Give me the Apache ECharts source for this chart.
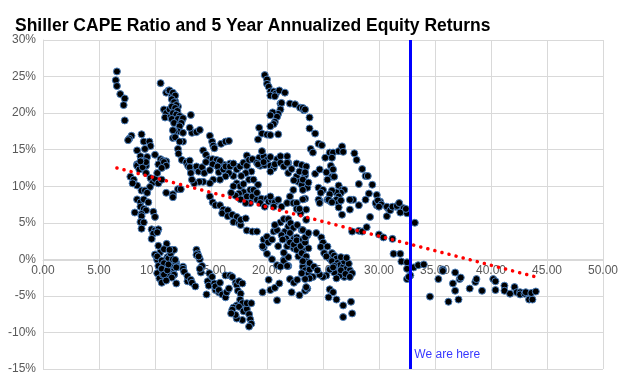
<!DOCTYPE html>
<html>
<head>
<meta charset="utf-8">
<script src="https://cdn.jsdelivr.net/npm/echarts@6/dist/echarts.min.js"></script>
<style>html,body{margin:0;padding:0;background:#fff;}#c{width:624px;height:384px;}</style>
</head>
<body>
<div id="c"></div>
<script>
var titleText = "Shiller CAPE Ratio and 5 Year Annualized Equity Returns";
var xTicks = [0, 5, 10, 15, 20, 25, 30, 35, 40, 45, 50];
var yTicks = [-15, -10, -5, 0, 5, 10, 15, 20, 25, 30];
var currentCape = 32.8;
var markerLabel = "We are here";
var markerLabelReturn = -13.0;
var trendLine = [[6.6, 12.5], [44.0, -2.4]];

var pointsLowCape = [
[6.6,25.7],[6.5,24.5],[6.6,23.7],[6.9,22.6],[7.3,22.0],[7.2,21.1],[7.3,19.0],[7.9,16.9],[7.7,16.5],[7.6,16.3],
[8.8,17.1],[9.0,16.1],[9.5,16.1],[9.6,15.5],[8.4,14.9],[9.1,15.1],[10.0,14.3],[8.7,14.1],[9.3,14.0],[8.8,13.5],[9.1,13.4],[8.4,13.0],[9.2,12.8],[8.7,12.6],
[8.4,12.8],[8.6,12.3],[8.9,12.6],[9.2,13.3],[8.7,13.4],
[7.8,11.3],[8.1,10.9],[8.4,10.1],[8.0,10.4],
[9.2,11.8],[9.6,11.1],[9.8,10.5],[10.0,11.0],[10.2,11.8],[10.45,12.95],
[9.55,9.9],[10.3,10.4],
[8.8,9.4],[9.1,9.4],[9.3,9.1],[8.4,8.2],[8.7,7.8],[9.0,8.2],[9.4,7.8],[8.7,7.2],[9.0,6.9],[9.2,6.7],[8.2,6.4],[8.8,6.2],[9.85,6.5],[8.8,5.9],[10.0,5.8],[8.7,5.1],[9.0,5.05],
[8.8,4.2],[9.7,4.1],[10.0,3.95],[10.3,4.1],[9.85,3.5],[10.2,3.7],[9.7,2.8],
[10.3,1.85],[10.45,0.94],[10.1,0.57],[10.2,0.12],[10.0,0.66],[10.2,-0.07],[10.3,-0.9],[10.45,-2.26],[10.2,-1.9],[10.2,0.4],[10.4,-2.6]
];

var pointsCape10to13 = [
[10.5,24.1],[11.0,22.8],[11.2,23.1],[11.5,22.5],[11.7,22.3],[11.8,21.6],[10.8,20.5],[11.0,20.0],[11.3,20.5],[10.9,19.4],[11.4,19.5],[11.9,20.0],[12.05,20.9],
[11.3,23.1],[11.6,22.8],[11.8,22.4],[11.5,21.9],[11.7,21.5],[11.9,21.1],[11.5,20.9],[11.8,20.7],[12.0,20.3],[11.6,20.0],[11.9,19.8],[12.2,19.6],[11.5,19.2],[12.05,19.2],[12.4,19.0],[11.7,18.65],[12.2,18.4],
[13.2,19.75],[12.5,19.3],[12.35,18.65],[12.2,18.2],[12.05,17.5],[11.75,17.5],[11.6,16.6],[12.5,17.3],[12.5,16.1],[11.6,17.65],[11.8,16.7],[12.2,16.1],
[10.5,13.7],[10.7,13.5],[11.0,13.4],[10.3,13.0],[10.8,13.3],[11.0,12.8],[10.6,12.5],
[10.6,10.9],[11.0,9.1],[11.6,8.9],[12.05,9.6],[11.6,8.5],[12.3,9.6],
[12.05,15.1],[12.1,14.45],[12.4,13.6],[12.8,13.3],[13.1,12.6],[12.8,13.26],[12.95,12.8],[13.1,13.5],
[11.04,2.12],[10.8,1.39],[10.6,-0.16],[11.1,0.3],[11.4,0.84],[11.6,-0.07],[11.9,-0.5],[10.9,-0.8],[11.6,-1.07],[11.3,-0.07],
[11.6,1.3],[11.2,0.11],[10.8,-0.53],[10.6,-1.26],[10.9,-1.44],[11.4,-0.71],[11.8,-0.34],[11.9,-1.07],[11.6,-1.7],[11.3,-1.9],[11.7,-2.1],[10.7,-2.1],[11.2,-2.2],
[10.6,-1.3],[10.8,-2.1],[10.6,-3.2],[11.1,-1.5],[11.2,-0.7],[11.4,0.8],[11.7,1.3],[11.6,0],[11.9,-1.1],[11.7,-2.1],[11.9,-3.3],[11.5,-2.5],[11.0,-2.9],
[11.3,1.3],[11.8,-0.07],[12.5,-1.0],[12.5,-1.3],[12.6,-1.7],[12.9,-3.0],[12.9,-2.3],[13.2,-2.8],[13.3,-3.2],[13.6,-3.7]
];

var pointsMidCapeHigh = [
[13.3,17.3],[13.7,17.4],[14.0,17.7],[13.1,18.0],[14.9,16.9],[15.1,16.1],[15.2,15.55],[15.3,15.2],[15.9,15.8],[16.3,16.1],[16.6,16.2],
[14.3,14.9],[14.55,14.3],[14.8,13.7],[15.15,13.7],[15.5,13.6],[15.9,13.1],
[13.7,12.5],[14.2,12.5],[13.1,12.6],
[17.2,12.7],[17.4,12.45],[16.7,13.1],[16.2,12.9],[15.8,13.45],[15.5,12.8],
[13.7,12.7],[13.9,12.0],[14.2,12.6],[14.4,11.8],[14.55,13.3],[15.15,13.0],[15.6,12.7],[14.9,12.2],[15.7,11.9],[16.1,12.3],[16.3,12.7],[16.7,12.7],[17.0,13.1],[17.3,12.3],[17.6,12.7],[17.9,13.2],[18.2,12.8],[18.6,12.0],[18.1,11.8],[17.7,11.4],[17.0,11.4],[16.6,11.8],[16.3,11.35],[15.8,10.9],[15.2,10.9],[14.9,10.4],[14.3,10.6],[13.96,10.6],[13.5,10.4],[13.2,11.8],[13.3,10.9],
[17.3,10.4],[17.6,10.0],[17.9,10.3],[18.4,10.9],[18.8,10.9],[19.2,10.2],[18.5,9.5],[17.9,9.2],[17.5,9.0],[17.2,8.7],[17.65,8.2],[18.2,8.6],[18.7,8.6],[19.1,8.15],[19.5,8.3],
[18.8,9.5],[19.1,9.1],[18.5,7.7],[18.1,7.7],[17.0,10.0],[16.8,9.1],
[14.9,8.6],[15.15,7.8],[15.4,7.4],[15.8,7.4],[16.1,6.8],[16.0,6.3],[16.5,6.7],[16.5,5.9],[16.9,6.1],[17.3,5.8],[17.0,5.1],[17.5,4.95],[17.65,4.7],[17.65,5.4],[18.1,5.6],[18.2,3.95],[18.7,3.8],[19.1,3.8]
];

var pointsMidCapeLow = [
[13.7,1.3],[13.8,0.8],[14.2,-0.9],[13.7,0.6],[14.0,0],[14.1,-1.8],[14.7,-3.0],[14.8,-3.6],[15.4,-4.2],[15.7,-4.5],[13.9,0.4],[14.0,-1.3],[14.6,-4.8],
[14.85,-1.9],[15.1,-2.4],[15.3,-3.3],[15.4,-3.7],[15.8,-3.2],[15.7,-4.2],[16.0,-4.8],[16.3,-5.2],[16.4,-4.5],[16.6,-4.0],[16.3,-2.2],[16.7,-2.2],[16.9,-2.4],[17.2,-3.2],[17.3,-3.5],[17.5,-3.0],[17.8,-3.3],[17.4,-4.3],[17.65,-4.7],[17.6,-5.5],[17.8,-6.0],[17.3,-6.3],[17.0,-6.6],[16.9,-6.9],[17.5,-6.5],[17.9,-7.1],[18.2,-6.8],[18.4,-7.5],[18.5,-8.2],[18.6,-8.8],[18.4,-9.2],[17.8,-8.3],[17.3,-8.1],[17.2,-7.6],[16.8,-7.4],[18.2,-6.0],[18.6,-6.0]
];

var pointsCape19to24High = [
[19.8,25.2],[20.0,24.6],[20.0,24.0],[20.15,23.6],[20.3,22.95],[20.6,22.95],[20.8,22.7],[21.1,23.1],[21.6,22.8],[20.3,22.4],[20.7,22.3],
[21.2,21.3],[21.3,21.4],[22.05,21.3],[22.5,21.2],[22.95,20.75],[23.3,20.4],
[21.2,20.5],[21.0,19.9],[20.5,20.1],[20.3,19.7],[20.9,19.5],[20.7,18.8],[20.6,18.5],[20.3,18.2],
[19.3,18.0],[19.2,16.4],[19.55,17.2],[20.0,17.06],[20.3,17.0],[21.0,17.1],
[18.2,14.2],[18.4,13.6],[18.7,13.7],[19.3,13.9],[19.7,14.1],[19.55,14.8],[20.0,13.6],[20.3,14.0],[20.9,13.7],[21.2,14.1],[21.8,14.1],[21.9,13.2],[21.5,12.8],[19.1,13.2],[19.4,12.8],[19.8,12.9],[20.3,12.8],[20.6,12.5],
[19.2,13.0],[19.7,13.3],[20.3,12.0],[20.7,13.0],[21.2,13.2],[21.5,12.7],[21.8,13.2],[21.9,11.8],[22.2,12.35],[22.65,13.1],[23.1,12.9],[23.5,12.7],[23.4,11.5],[22.65,11.35],[22.8,10.6],[23.1,10.2],[23.6,9.8],[22.4,10.8]
];

var pointsCape19to24Low = [
[19.4,7.7],[19.8,7.2],[20.0,8.3],[20.15,7.9],[20.4,8.1],[20.7,7.8],[21.0,8.15],[21.3,7.2],[21.8,7.7],[22.35,7.7],[22.65,7.7],[23.5,6.8],[23.0,6.3],[22.65,6.9],[22.05,8.6],[22.35,9.5],[20.6,7.2],[20.3,8.6],
[19.7,2.7],[20.0,3.1],[20.1,2.3],[19.7,1.6],[20.45,2.7],[20.6,3.8],[20.9,4.0],[21.2,5.05],[20.7,4.7],[21.5,5.5],[21.6,3.8],[21.3,3.3],[21.9,4.5],[21.9,5.5],[22.1,4.95],[22.35,4.3],[22.05,3.6],[21.7,2.85],[21.4,2.7],[22.4,2.8],[22.65,3.0],[22.05,1.85],[22.4,1.5],[22.8,1.8],[23.2,1.2],[22.7,4.7],[23.1,4.0],[23.5,5.4],[23.4,2.5],[23.6,3.3],
[20.0,0.75],[20.45,0.0],[21.5,-0.07],[21.9,-0.9],[22.8,0.4],[23.3,-0.07],
[19.6,1.8],[19.6,-4.5],[20.15,-2.8],[20.3,-4.2],[20.7,-3.9],[21.1,-3.3],[20.9,-5.6],[20.9,-0.8],[21.2,-1.0],[21.5,-0.2],[21.8,-0.9],[21.9,0.3],[21.5,0.9],[21.8,1.8],[22.05,2.3],[22.4,2.0],[22.65,1.3],[22.65,2.6],[23.0,1.8],[23.2,2.7],[23.4,2.3],[23.7,1.5],[23.5,-0.6],[23.2,-1.0],[23.4,-1.5],[23.7,-1.9],[23.8,-1.4],[22.05,-2.7],[22.4,-3.2],[22.7,-2.8],[22.2,-4.5],[22.9,-4.9],[23.4,-4.3],[23.6,-4.0],[21.0,1.8]
];

var pointsHighCapeUpper = [
[23.2,20.7],[23.4,20.5],[23.8,19.4],[23.8,17.9],[24.3,17.2],[24.6,15.8],[24.9,15.6],[23.9,15.1],[24.1,14.6],[25.2,13.9],[25.6,14.6],[25.9,14.6],[25.8,13.9],[26.4,14.8],[26.7,15.45],[26.8,14.7],[27.8,14.5],[28.0,13.6],[28.5,12.35],[28.8,11.4],[29.0,11.4],[28.2,10.3],[29.4,10.2],[29.1,9.0],[29.8,8.8],[30.1,7.9],[29.8,7.4],[30.8,7.0],[31.5,7.2],[31.8,7.6],[32.2,7.0],
[22.9,12.0],[23.4,11.9],[23.2,10.9],[23.7,10.5],[23.2,9.5],[23.4,8.3],
[24.3,11.7],[24.7,12.3],[25.3,11.9],[25.7,12.8],[25.9,12.3],[25.8,11.3],[25.4,10.9],[26.0,11.3],
[26.4,10.1],[26.7,9.5],[26.9,9.5],[26.6,9.1],[26.2,9.15],
[24.6,9.8],[25.0,9.5],[24.8,9.1],[25.8,9.4],[25.6,8.9],[25.4,8.15],[25.7,7.9],[26.4,8.6],[26.2,8.15],[26.4,7.7],[24.7,8.0],[27.5,8.15],[27.7,8.15],
[22.9,6.9],[23.2,8.2],[24.6,8.15],[24.7,7.7],[25.5,8.15],[25.8,7.8],[26.4,7.1],[26.7,6.1],[26.6,8.05],[27.4,8.15],[27.4,6.8],[28.2,7.4],[28.8,8.15],[29.2,5.8],[29.7,7.7],[29.9,8.05],[30.2,7.5],[30.0,7.2],[30.7,7.2],[30.7,5.9],[31.0,6.7],[31.2,7.2],[31.6,7.3],[31.8,7.7],[31.9,6.4],[32.5,6.3],[32.4,6.9],[33.2,5.0]
];

var pointsHighCapeLower = [
[23.2,4.0],[23.4,3.0],[23.7,3.6],[23.1,0.85],[23.5,0.4],[23.5,-0.3],[23.2,-0.25],[23.8,-0.5],[24.2,-1.0],[24.4,3.6],[24.85,3.0],[25.0,2.3],[24.8,1.7],[25.1,0.85],[25.4,1.75],[25.6,0.1],[25.8,0.85],[26.0,0.5],[26.2,0.1],[25.8,-0.25],[26.3,-0.5],[26.5,-0.8],[26.8,-1.0],[27.1,-1.3],[27.4,-1.5],[27.2,-2.2],[26.9,-2.4],[26.5,-2.2],[26.0,-1.8],[25.6,-1.4],[25.3,-2.2],[25.0,-2.4],[24.7,-2.1],[24.5,-1.5],[24.1,-2.4],[23.8,-2.6],[23.4,-2.7],[23.1,-1.9],[23.5,-3.8],
[26.0,-0.9],[26.6,-1.5],[26.9,-0.3],[27.3,-0.6],[27.0,-2.0],[26.2,-2.6],[25.9,-1.1],[27.6,-1.9],[27.4,-2.4],[26.6,0.3],[25.3,0.4],[27.1,0.2],
[27.6,3.8],[28.2,3.9],[28.5,3.8],[28.9,4.4],[30.0,3.4],[30.4,3.0],[31.2,2.8],[31.3,0.75],[31.9,0.75],[32.0,-0.3],[32.5,-0.4],[32.5,-1.3],[32.8,-2.2],[33.1,-1.1],[33.5,-0.8],[34.0,-0.7],[32.5,-2.7],[32.65,-2.4],[34.55,-5.1],
[25.6,-4.1],[25.9,-4.5],[25.5,-5.2],[26.2,-5.5],[26.8,-6.3],[27.5,-5.8],[27.6,-7.4],[26.8,-7.9]
];

var pointsVeryHighCape = [
[35.3,-2.7],[35.7,-1.4],[36.8,-1.8],[37.2,-2.7],[36.6,-3.3],[36.8,-4.3],[36.2,-5.8],[37.1,-5.5],[38.1,-4.0],[38.6,-3.1],[38.7,-2.7],[39.2,-4.3],[40.2,-2.7],[40.4,-3.0],[40.4,-4.2],[41.2,-3.6],[41.2,-4.3],[41.7,-4.7],[42.1,-3.8],[42.3,-4.5],[42.6,-4.5],[42.6,-4.8],[43.0,-4.7],[43.1,-4.5],[43.4,-5.5],[43.7,-5.5],[43.6,-4.6],[44.0,-4.4],[37.3,-2.5],[35.7,-1.6]
];

var allPoints = [].concat(pointsLowCape, pointsCape10to13, pointsMidCapeHigh, pointsMidCapeLow,
  pointsCape19to24High, pointsCape19to24Low, pointsHighCapeUpper, pointsHighCapeLower, pointsVeryHighCape);

var FONT = "'Liberation Sans', Arial, sans-serif";
var chart = echarts.init(document.getElementById('c'), null, {renderer: 'canvas'});
chart.setOption({
  animation: false,
  backgroundColor: '#ffffff',
  title: {
    text: titleText, left: 15, top: 17, padding: 0,
    textStyle: {fontFamily: FONT, fontSize: 17.5, fontWeight: 'bold', color: '#000000'}
  },
  grid: {left: 43, right: 21, top: 40, bottom: 15, containLabel: false},
  xAxis: {
    type: 'value', min: xTicks[0], max: xTicks[xTicks.length - 1], interval: 5,
    position: 'bottom', offset: 0,
    axisLine: {show: true, onZero: false, lineStyle: {color: '#d9d9d9', width: 1}},
    axisTick: {show: false},
    axisLabel: {color: '#595959', fontFamily: FONT, fontSize: 12, margin: 5,
      formatter: function (v) { return v.toFixed(2); }},
    splitLine: {show: true, lineStyle: {color: '#d9d9d9', width: 1}}
  },
  yAxis: {
    type: 'value', min: yTicks[0], max: yTicks[yTicks.length - 1], interval: 5,
    axisLine: {show: true, onZero: false, lineStyle: {color: '#d9d9d9', width: 1}},
    axisTick: {show: false},
    axisLabel: {color: '#595959', fontFamily: FONT, fontSize: 12, margin: 7,
      formatter: function (v) { return v + '%'; }},
    splitLine: {show: true, lineStyle: {color: '#d9d9d9', width: 1}}
  },
  series: [
    {
      type: 'scatter', data: allPoints, symbol: 'circle', symbolSize: 7, z: 2,
      itemStyle: {color: '#000000', borderColor: '#4a7ebb', borderWidth: 1, opacity: 1}
    },
    {
      type: 'line', data: trendLine, symbol: 'none', z: 3, silent: true,
      lineStyle: {color: '#ff0000', width: 3.5, type: [0.1, 7.2], cap: 'round'}
    },
    {
      type: 'scatter', data: [[currentCape, markerLabelReturn]], symbolSize: 0, z: 5, silent: true,
      label: {show: true, position: 'right', distance: 4, formatter: markerLabel,
        color: '#0000ff', fontFamily: FONT, fontSize: 12},
      markLine: {
        symbol: 'none', silent: true, z: 5,
        lineStyle: {color: '#0000ff', width: 3, type: 'solid'},
        label: {show: false},
        data: [{xAxis: currentCape}]
      }
    }
  ]
});
// Place the category labels on the 0% line (as in the original), using the y scale itself.
var yBottomPx = chart.convertToPixel({yAxisIndex: 0}, yTicks[0]);
var yZeroPx = chart.convertToPixel({yAxisIndex: 0}, 0);
chart.setOption({xAxis: {offset: -(yBottomPx - yZeroPx)}});
</script>
</body>
</html>
